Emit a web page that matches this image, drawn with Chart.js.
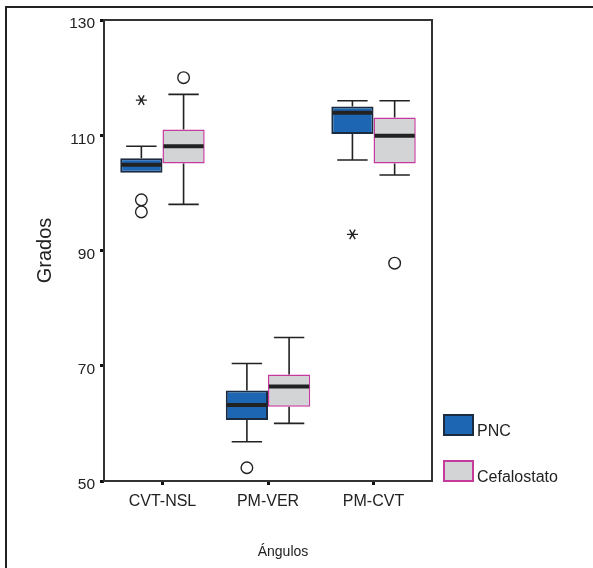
<!DOCTYPE html>
<html>
<head>
<meta charset="utf-8">
<script src="https://cdn.jsdelivr.net/npm/chart.js@4.4.0/dist/chart.umd.min.js"></script>
<style>
  html, body { margin: 0; padding: 0; background: #fff; }
  #wrap { position: relative; width: 593px; height: 568px; overflow: hidden; }
  #marco { position: absolute; left: 5px; top: 6px; width: 700px; height: 700px;
           border-left: 2px solid #222; border-top: 2px solid #222; }
  canvas { position: absolute; left: 0; top: 0; }
  #leyenda { position: absolute; left: 443px; top: 414px; font-family: "Liberation Sans", Arial, sans-serif;
             font-size: 16px; color: #222; }
  .item { height: 45.5px; line-height: 18px; display: flex; align-items: baseline; }
  .caja { display: inline-block; width: 27px; height: 18px; margin-right: 3px; }
</style>
</head>
<body>
<div id="wrap">
  <div id="marco"></div>
  <canvas id="grafico" width="593" height="568"></canvas>
  <div id="leyenda"></div>
</div>
<script>
// ===== Diagrama de caja: ángulos medidos con PNC y con cefalostato =====

const categorias = ["CVT-NSL", "PM-VER", "PM-CVT"];
const ticksY = [50, 70, 90, 110, 130];

// PNC
const pncMin = [103.5, 56.8, 105.7];
const pncQ1 = [103.5, 60.6, 110.2];
const pncMediana = [104.9, 63.2, 113.9];
const pncQ3 = [106.0, 65.7, 115.0];
const pncMax = [108.1, 70.4, 116.0];
const pncAtipicos = [[98.8, 96.7], [52.3], []];
const pncExtremos = [[116.1], [], [92.8]];

// Cefalostato
const cefMin = [98.0, 60.0, 103.1];
const cefQ1 = [105.1, 62.9, 105.1];
const cefMediana = [108.1, 66.4, 109.9];
const cefQ3 = [111.0, 68.5, 113.1];
const cefMax = [117.1, 74.9, 116.0];
const cefAtipicos = [[120.0], [], [87.8]];
const cefExtremos = [[], [], []];

const series = [
  { min: pncMin, med: pncMediana, max: pncMax, atip: pncAtipicos, ext: pncExtremos },
  { min: cefMin, med: cefMediana, max: cefMax, atip: cefAtipicos, ext: cefExtremos }
];

const fuente = '"Liberation Sans", Arial, sans-serif';

// bigotes, medianas, atípicos (o) y extremos (*), dibujados sobre las escalas del gráfico
const cajasPlugin = {
  id: "cajas",
  afterDatasetsDraw(chart) {
    const ctx = chart.ctx;
    const ey = chart.scales.y;
    ctx.save();
    chart.data.datasets.forEach((ds, di) => {
      const s = series[di];
      chart.getDatasetMeta(di).data.forEach((barra, i) => {
        const x = barra.x, w = barra.width;
        const yTop = Math.min(barra.y, barra.base), yBot = Math.max(barra.y, barra.base);
        const yMax = ey.getPixelForValue(s.max[i]);
        const yMin = ey.getPixelForValue(s.min[i]);
        const cap = w * 0.36;
        ctx.strokeStyle = "#222";
        ctx.lineWidth = 1.6;
        ctx.beginPath();
        if (yMax < yTop - 1) {
          ctx.moveTo(x, yTop); ctx.lineTo(x, yMax);
          ctx.moveTo(x - cap, yMax); ctx.lineTo(x + cap, yMax);
        }
        if (yMin > yBot + 1) {
          ctx.moveTo(x, yBot); ctx.lineTo(x, yMin);
          ctx.moveTo(x - cap, yMin); ctx.lineTo(x + cap, yMin);
        }
        ctx.stroke();
        // mediana
        const yMed = ey.getPixelForValue(s.med[i]);
        ctx.lineWidth = 4;
        ctx.beginPath();
        ctx.moveTo(x - w / 2 + 1, yMed); ctx.lineTo(x + w / 2 - 1, yMed);
        ctx.stroke();
        // atípicos
        ctx.lineWidth = 1.4;
        s.atip[i].forEach(v => {
          ctx.beginPath();
          ctx.arc(x, ey.getPixelForValue(v), 5.8, 0, Math.PI * 2);
          ctx.stroke();
        });
        // extremos
        s.ext[i].forEach(v => {
          const py = ey.getPixelForValue(v);
          ctx.beginPath();
          [0, Math.PI / 3, 2 * Math.PI / 3].forEach(a => {
            ctx.moveTo(x - 5.5 * Math.cos(a), py - 5.5 * Math.sin(a));
            ctx.lineTo(x + 5.5 * Math.cos(a), py + 5.5 * Math.sin(a));
          });
          ctx.stroke();
        });
      });
    });
    // marco del área de datos
    const a = chart.chartArea;
    ctx.strokeStyle = "#333";
    ctx.lineWidth = 2;
    ctx.strokeRect(a.left, a.top, a.right - a.left, a.bottom - a.top);
    // título del eje x
    ctx.fillStyle = "#222";
    ctx.font = "14px " + fuente;
    ctx.textAlign = "center";
    ctx.textBaseline = "middle";
    ctx.fillText("Ángulos", 283, 552);
    ctx.restore();
  }
};

const grafico = new Chart(document.getElementById("grafico"), {
  type: "bar",
  data: {
    datasets: [
      {
        label: "PNC",
        data: categorias.map((c, i) => ({ x: i + 1, y: [pncQ1[i], pncQ3[i]] })),
        backgroundColor: "#1c66b4",
        borderColor: "#1b2b40",
        borderWidth: 2,
        borderSkipped: false,
        categoryPercentage: 0.8,
        barPercentage: 1.0
      },
      {
        label: "Cefalostato",
        data: categorias.map((c, i) => ({ x: i + 1, y: [cefQ1[i], cefQ3[i]] })),
        backgroundColor: "#d3d4d6",
        borderColor: "#c63a9e",
        borderWidth: 1.5,
        borderSkipped: false,
        categoryPercentage: 0.8,
        barPercentage: 1.0
      }
    ]
  },
  options: {
    responsive: false,
    animation: false,
    layout: { padding: { left: 0, top: 20, right: 161, bottom: 0 } },
    plugins: {
      legend: { display: false },
      tooltip: { enabled: false }
    },
    scales: {
      x: {
        type: "linear",
        offset: false,
        min: 0.446,
        max: 3.554,
        afterBuildTicks: scale => { scale.ticks = categorias.map((c, i) => ({ value: i + 1 })); },
        afterFit: scale => { scale.height = 87; },
        border: { display: false },
        grid: { offset: false, drawOnChartArea: false, drawTicks: true, tickLength: 4, lineWidth: 3, color: "#111" },
        ticks: {
          padding: 7,
          color: "#222",
          font: { family: fuente, size: 16 },
          callback: v => categorias[v - 1] || ""
        }
      },
      y: {
        min: 50,
        max: 130,
        afterBuildTicks: scale => { scale.ticks = ticksY.map(v => ({ value: v })); },
        afterFit: scale => { scale.width = 104; },
        border: { display: false },
        grid: { drawOnChartArea: false, drawTicks: true, tickLength: 4, lineWidth: 3, color: "#111" },
        ticks: {
          padding: 5,
          labelOffset: 4,
          color: "#222",
          font: { family: fuente, size: 15.5 }
        },
        title: {
          display: true,
          text: "Grados",
          color: "#222",
          font: { family: fuente, size: 20 },
          padding: { top: 33, bottom: 0 }
        }
      }
    }
  },
  plugins: [cajasPlugin]
});

// leyenda a la derecha del gráfico
const leyenda = document.getElementById("leyenda");
grafico.data.datasets.forEach(ds => {
  const item = document.createElement("div");
  item.className = "item";
  const caja = document.createElement("span");
  caja.className = "caja";
  caja.style.background = ds.backgroundColor;
  caja.style.border = "2px solid " + ds.borderColor;
  item.appendChild(caja);
  item.appendChild(document.createTextNode(ds.label));
  leyenda.appendChild(item);
});
</script>
</body>
</html>
